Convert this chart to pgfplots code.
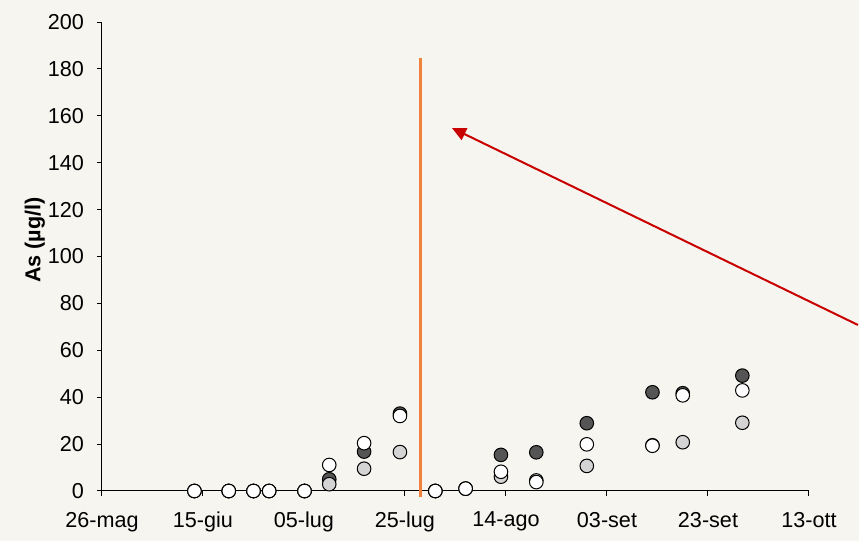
\documentclass[border=0pt]{standalone}
\usepackage{fontspec}
\setmainfont{Liberation Sans}
\usepackage{pgfplots}
\pgfplotsset{compat=1.18}
\usetikzlibrary{arrows.meta}
\definecolor{bgc}{RGB}{247,245,239}
\definecolor{darkc}{RGB}{85,85,85}
\definecolor{lightc}{RGB}{212,212,212}
\definecolor{orangec}{RGB}{240,130,60}
\definecolor{redc}{RGB}{200,0,0}
\begin{document}
\begin{tikzpicture}
\fill[bgc] (0,0) rectangle (429.5pt,270.5pt);
\useasboundingbox (0,0) rectangle (429.5pt,270.5pt);
\begin{axis}[
  at={(51pt,25pt)}, anchor=south west,
  scale only axis, width=353.5pt, height=234.5pt,
  xmin=0, xmax=140, ymin=0, ymax=200,
  axis x line*=bottom, axis y line*=left,
  axis line style={-, line width=0.5pt},
  tick align=outside, major tick length=2.5pt,
  tick style={black, line width=0.5pt},
  xtick={0,20,...,140},
  xticklabels={26-mag,15-giu,05-lug,25-lug,14-ago,03-set,23-set,13-ott},
  ytick={0,20,...,200},
  /pgf/number format/assume math mode=true,
  tick label style={font=\fontsize{10.8}{13}\selectfont},
  xticklabel style={yshift=-4.5pt},
  yticklabel style={xshift=-3pt},
  ylabel={\textbf{As (µg/l)}},
  ylabel style={at={(axis description cs:-0.095,0.535)}, anchor=center, font=\fontsize{10.8}{13}\selectfont},
  clip=false,
]
\addplot[orangec, line width=1.5pt, no marks] coordinates {(63,-2.4) (63,184.5)};
\addplot[only marks, mark=*, mark size=3.4pt, mark options={draw=black, fill=darkc, line width=0.5pt}] coordinates {
(18.3,0) (25.1,0) (30,0) (33.1,0) (40.1,0) (45,5) (51.9,16.8) (59,33) (66,0) (72,1) (79,15.4) (86,16.5) (96,28.9) (109,42.1) (115,41.7) (126.8,49.2)};
\addplot[only marks, mark=*, mark size=3.4pt, mark options={draw=black, fill=lightc, line width=0.5pt}] coordinates {
(18.3,0) (25.1,0) (30,0) (33.1,0) (40.1,0) (45,2.9) (51.9,9.5) (59,16.6) (66,0) (72,1) (79,6.1) (86,4.5) (96,10.7) (109,19.5) (115,20.8) (126.8,29.1)};
\addplot[only marks, mark=*, mark size=3.4pt, mark options={draw=black, fill=white, line width=0.5pt}] coordinates {
(18.3,0) (25.1,0) (30,0) (33.1,0) (40.1,0) (45,11.1) (51.9,20.4) (59,32) (66,0) (72,1) (79,8.2) (86,3.8) (96,19.9) (109,19.3) (115,40.8) (126.8,42.9)};
\draw[redc, line width=1pt, -{Triangle[length=7pt,width=6.5pt]}] (axis cs:149.7,70.8) -- (axis cs:69.3,154.8);
\end{axis}
\end{tikzpicture}
\end{document}
